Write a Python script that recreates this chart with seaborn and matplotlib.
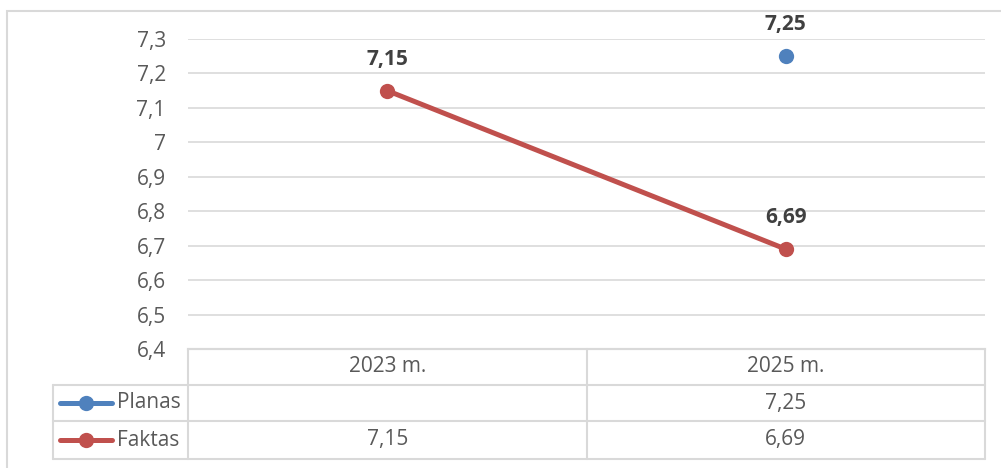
import matplotlib
matplotlib.use("Agg")
from matplotlib import pyplot as plt
from matplotlib.lines import Line2D
from matplotlib.patches import Rectangle
from matplotlib.transforms import blended_transform_factory
import seaborn as sns
import pandas as pd
import numpy as np

# chart values
years = ["2023 m.", "2025 m."]
planas = [np.nan, 7.25]
faktas = [7.15, 6.69]
series_names = ["Planas", "Faktas"]
colors = {"Planas": "#4F81BD", "Faktas": "#C0504D"}
yticks = [6.4, 6.5, 6.6, 6.7, 6.8, 6.9, 7.0, 7.1, 7.2, 7.3]

sns.set_theme(style="white")
plt.rcParams['font.family'] = ['Open Sans', 'DejaVu Sans']

def fmt(v):
    s = ("%.2f" % v).rstrip("0").rstrip(".")
    return s.replace(".", ",")

df = pd.DataFrame({
    "x": list(range(len(years))) * 2,
    "value": planas + faktas,
    "series": [series_names[0]] * len(years) + [series_names[1]] * len(years),
})

fig = plt.figure(figsize=(10.01, 4.68), dpi=100)
W, H = 1001, 468
ax = fig.add_axes([188 / W, 119 / H, 797 / W, 310 / H])

sns.lineplot(data=df, x="x", y="value", hue="series", palette=colors,
             marker="o", markersize=11, markeredgewidth=0, linewidth=3.6,
             legend=False, ax=ax)

ax.set_xlim(-0.5, len(years) - 0.5)
ax.set_ylim(6.4, 7.3)
ax.set_yticks(yticks)
ax.set_yticklabels([fmt(t) for t in yticks], color="#595959", fontsize=15)
ax.tick_params(axis="y", length=0, pad=16)
ax.set_xticks([])
ax.set_xlabel("")
ax.set_ylabel("")
ax.grid(axis="y", color="#d9d9d9", linewidth=1.2)
ax.set_axisbelow(True)
for s in ["top", "right", "left"]:
    ax.spines[s].set_visible(False)
ax.spines["bottom"].set_color("#d9d9d9")
ax.spines["bottom"].set_linewidth(1.5)

# data labels
for name, vals in zip(series_names, [planas, faktas]):
    for i, v in enumerate(vals):
        if np.isnan(v):
            continue
        ax.annotate(fmt(v), (i, v), xytext=(0, 15), textcoords="offset points",
                    ha="center", va="bottom", fontsize=15, fontweight="bold",
                    color="#404040", annotation_clip=False)

# data table below the plot
tr = blended_transform_factory(ax.transData, ax.transAxes)
row_h = 36 / 310
rows_y = [0, -row_h, -2 * row_h, -110 / 310]
left_x = -0.5 - 135 / 398.5
grid_kw = dict(color="#d9d9d9", linewidth=1.5, transform=tr, clip_on=False)

# horizontal lines
ax.add_line(Line2D([-0.5, 1.5], [rows_y[0]] * 2, **grid_kw))
for yy in rows_y[1:]:
    ax.add_line(Line2D([left_x, 1.5], [yy] * 2, **grid_kw))
# vertical lines
for xx in [-0.5, 0.5, 1.5]:
    ax.add_line(Line2D([xx, xx], [rows_y[0], rows_y[-1]], **grid_kw))
ax.add_line(Line2D([left_x, left_x], [rows_y[1], rows_y[-1]], **grid_kw))

txt_kw = dict(transform=tr, ha="center", va="center", fontsize=15,
              color="#595959", clip_on=False)
for i, yr in enumerate(years):
    ax.text(i, (rows_y[0] + rows_y[1]) / 2, yr, **txt_kw)
for r, (name, vals) in enumerate(zip(series_names, [planas, faktas])):
    ymid = (rows_y[r + 1] + rows_y[r + 2]) / 2
    for i, v in enumerate(vals):
        if not np.isnan(v):
            ax.text(i, ymid, fmt(v), **txt_kw)
    # legend key
    k0 = -0.5 - 128 / 398.5
    k1 = -0.5 - 76 / 398.5
    ax.add_line(Line2D([k0, k1], [ymid, ymid], color=colors[name], linewidth=3.6,
                       solid_capstyle="round", transform=tr, clip_on=False))
    ax.add_line(Line2D([(k0 + k1) / 2], [ymid], color=colors[name], marker="o",
                       markersize=11, markeredgewidth=0, transform=tr, clip_on=False))
    ax.text(-0.5 - 71 / 398.5, ymid, name, transform=tr, ha="left", va="center",
            fontsize=15, color="#595959", clip_on=False)

# outer chart border
fig.add_artist(Rectangle((7 / W, -0.2), 1.2, 1.2 - 11 / H, transform=fig.transFigure,
                         fill=False, edgecolor="#d9d9d9", linewidth=1.5))

fig.savefig("out.png", dpi=100)
